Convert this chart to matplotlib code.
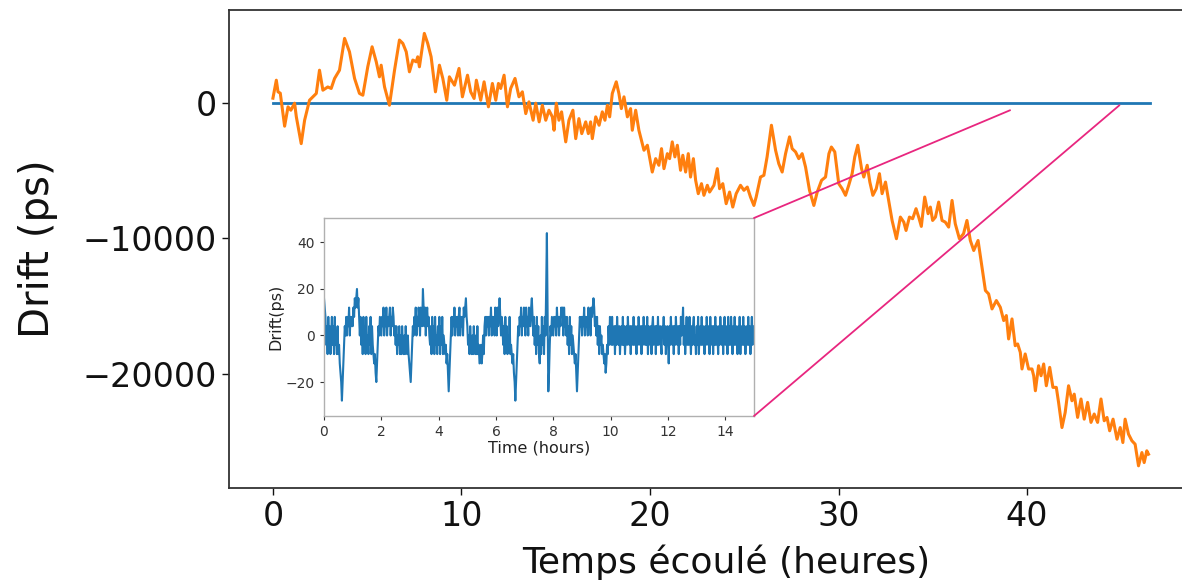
import numpy as np
import matplotlib
matplotlib.use("Agg")
import matplotlib.pyplot as plt
from matplotlib.patches import ConnectionPatch, Rectangle

# ---------------- main chart data ----------------
ref_hours = [0.0, 46.5]
ref_drift = [0, 0]

orange_hours_a = [0, 0.18, 0.27, 0.39, 0.62, 0.8, 0.95, 1.15, 1.24, 1.5, 1.68, 1.94, 2.12, 2.3, 2.47,
                  2.65, 2.91, 3.09, 3.27, 3.53, 3.8, 4.06, 4.33, 4.59, 4.77, 5.03, 5.26, 5.48, 5.65, 5.74,
                  5.92, 6.18, 6.45, 6.71, 6.89, 7.07, 7.24, 7.42, 7.6, 7.68, 7.77, 8.03, 8.21, 8.39, 8.62,
                  8.83, 9.01, 9.22, 9.36, 9.63]
orange_drift_a = [370, 1700, 840, 740, -1700, -270, -520, 0, -1000, -2990, -1260, 220, 470, 720, 2440,
                  960, 1200, 1090, 1830, 2440, 4790, 3800, 1830, 720, 590, 2690, 4170, 3060, 1950, 2810,
                  1200, -150, 2440, 4670, 4420, 3800, 2320, 3190, 3060, 3430, 2690, 5160, 4420, 3430, 840,
                  2810, 1830, 220, 1950, 1330]

orange_hours_b = [9.87, 10.05, 10.32, 10.49, 10.67, 10.79, 11.02, 11.2, 11.43, 11.64, 11.82, 11.96, 12.08,
                  12.26, 12.44, 12.61, 12.84, 13.05, 13.23, 13.41, 13.58, 13.8, 13.94, 14.12, 14.29, 14.47,
                  14.64, 14.82, 14.91, 15.03, 15.17, 15.31, 15.53, 15.7, 15.91, 16.06, 16.23, 16.38, 16.59,
                  16.73, 16.85, 16.94, 17.12, 17.3, 17.47, 17.61, 17.74, 17.86, 18.0, 18.21, 18.35, 18.48,
                  18.62, 18.8, 18.97, 19.06, 19.24, 19.41, 19.68, 19.86]
orange_drift_b = [2570, 470, 2070, 840, 350, 1700, 220, 1580, -270, 1460, 220, 1460, 1090,
                  2070, -270, 1090, 1830, 470, 840, -770, 100, -1260, 0, -1380, -150, -1260,
                  -520, -1010, -2000, 0, -1260, -640, -2860, -1260, -520, -2620, -1140, -2250, -1380,
                  -2250, -1380, -2620, -1010, -1630, -640, -1260, -150, -1010, 720, 1580, 720, -400,
                  470, -1010, -400, -2000, -520, -2000, -3480, -3110]

orange_hours_c = [20.12, 20.3, 20.47, 20.61, 20.74, 20.92, 21.04, 21.18, 21.32, 21.45, 21.62, 21.74, 21.89,
                  22.03, 22.15, 22.3, 22.42, 22.56, 22.73, 22.86, 23.04, 23.16, 23.39, 23.57, 23.69, 23.86,
                  24.04, 24.22, 24.39, 24.57, 24.8, 24.98, 25.16, 25.33, 25.51, 25.63, 25.86, 26.04, 26.21,
                  26.44, 26.66, 26.83, 27.01, 27.19, 27.4, 27.54, 27.72, 27.89, 28.07, 28.25, 28.46, 28.69,
                  28.87, 29.1, 29.31, 29.49, 29.62, 29.8]
orange_drift_c = [-5090, -4100, -4590, -3360, -4840, -3730, -4100, -2860, -3970, -3110, -4960, -3850, -5090,
                  -3730, -5460, -4100, -5700, -6690, -5950, -6810, -6070, -6570, -6070, -4840, -6320, -5950,
                  -7430, -6570, -7680, -6690, -6070, -6440, -6200, -6940, -7560, -6940, -5460, -5330, -3970,
                  -1630, -3480, -4470, -5090, -3730, -2490, -3360, -3600, -4100, -3730, -4720, -6440, -7560,
                  -6570, -5700, -5460, -3730, -3240, -3600]

orange_hours_d = [30.01, 30.19, 30.37, 30.54, 30.72, 30.86, 31.02, 31.22, 31.34, 31.52, 31.66, 31.82, 32.0,
                  32.17, 32.31, 32.49, 32.66, 32.84, 33.07, 33.28, 33.46, 33.58, 33.76, 33.93, 34.11, 34.25,
                  34.39, 34.57, 34.75, 34.87, 34.99, 35.14, 35.31, 35.49, 35.66, 35.84, 36.02, 36.19, 36.41,
                  36.63, 36.81, 36.99, 37.17, 37.4, 37.61, 37.79, 37.96, 38.14, 38.37]
orange_drift_d = [-5950, -6320, -6810, -6070, -5210, -3970, -3110, -4840, -5460, -4590, -5830, -6810, -6320,
                  -5210, -6690, -5830, -7190, -8670, -10020, -8420, -8790, -9410, -8420, -8540, -7800, -8420,
                  -9110, -6940, -8170, -7680, -8670, -8420, -7310, -8670, -8790, -9160, -7190, -8910, -10020,
                  -9650, -8670, -10150, -10890, -10150, -12120, -13850, -14100, -15210, -14590]

orange_hours_e = [38.58, 38.76, 38.9, 39.02, 39.2, 39.37, 39.5, 39.64, 39.73, 39.9, 40.08, 40.26, 40.35,
                  40.44, 40.61, 40.74, 40.88, 41.02, 41.2, 41.37, 41.55, 41.67, 41.85, 42.02, 42.2, 42.38,
                  42.5, 42.68, 42.86, 43.03, 43.21, 43.39, 43.56, 43.74, 43.92, 44.09, 44.24, 44.38, 44.56,
                  44.77, 44.94, 45.08, 45.2, 45.38, 45.56, 45.73, 45.91, 46.09, 46.21, 46.35, 46.44]
orange_drift_e = [-15090, -16070, -15700, -17430, -15950, -17930, -17800, -18420, -19650, -18540, -19650,
                  -19650, -20150, -21260, -19410, -20150, -19280, -20890, -19530, -21010, -21010, -22120,
                  -23980, -22870, -20890, -22000, -21510, -23230, -21870, -23360, -22120, -23600, -22980,
                  -23600, -21870, -23480, -23230, -24220, -23360, -24840, -23980, -25090, -23360, -24470,
                  -24960, -25210, -26810, -25830, -26570, -25700, -25950]

main_xticks = [0, 10, 20, 30, 40]
main_yticks = [0, -10000, -20000]

# ---------------- inset data (drift in 4 ps quanta, one row per hour) ----------------
inset_quantum_ps = 4
inset_step_hours = 0.025
inset_units = [
    [4, 3, 2, -1, 1, -2, 2, -1, 1, -2, 0, 2, -1, 1, -2, 2, -1, 0, -2, 1, -2, -1, -3, -4, -5, -7, -5, -3, -1, 1, 0, 2, 0, 2, 1, 3, 0, 2, 1, 2],
    [1, 3, 2, 4, 3, 4, 5, 3, 4, 2, 0, 2, -1, 1, -2, 2, -1, 1, -2, 2, -1, 0, -2, 1, -1, 2, -2, 1, -1, -2, -3, -2, -4, -5, -3, -1, 1, 0, 2, 1],
    [0, 2, 1, 3, 0, 2, 1, 3, 0, 2, 1, 2, 3, 0, 2, 1, 3, 2, 0, 1, -1, 1, -2, 0, -1, 1, -2, 0, -2, 1, -1, -2, 0, -2, 1, -1, -2, 0, -2, -3],
    [-4, -5, -3, -1, 1, 0, 2, 1, 3, 0, 2, 1, 3, 2, 0, 3, 2, 1, 5, 3, 1, 3, 0, 2, 3, 1, 2, 0, -1, 1, -2, 2, -1, 1, -2, 2, -1, 0, -2, 1],
    [-1, 2, -2, 1, -1, 2, -2, 0, -1, -2, -1, -3, -2, -4, -6, -4, -2, 0, 2, 0, 2, 1, 3, 0, 2, 1, 2, 0, 2, 3, 0, 2, 1, 2, 0, 3, 2, 3, 4, 2],
    [1, -1, 0, -2, 1, -1, -2, 0, -2, 1, -1, -2, 0, -2, 1, -2, -1, -3, -2, -1, -3, -2, 0, -2, 1, 2, 0, 2, 1, 2, 0, 2, 1, 3, 0, 2, 1, 2, 0, 3],
    [2, 0, 3, 1, 2, 4, 2, 0, 2, 1, -1, 1, -2, 2, -1, 1, -2, 0, -1, 2, -2, -1, -2, -3, -2, -4, -5, -7, -5, -3, -1, 1, 0, 2, 1, 3, 0, 2, 1, 3],
    [2, 0, 3, 1, 2, 0, 3, 2, 1, 3, 4, 2, 0, 2, -1, 1, -2, 2, -1, 1, -2, -3, 0, -2, 2, -1, 1, -2, 2, 0, 5, 11, 2, -6, -4, -1, 1, 0, 2, 1],
    [0, 2, 1, 2, 0, 3, 1, 2, 0, 2, 1, 3, 2, 3, 0, 3, 1, 2, 0, 2, -1, 1, -2, 2, -1, 1, -2, 0, -1, -2, -3, -2, -4, -6, -4, -2, 0, 2, 1, 2],
    [0, 2, 1, 3, 0, 2, 1, 2, 0, 3, 1, 2, 0, 3, 2, 3, 4, 3, 1, 2, 0, 2, -1, 1, -2, 1, -1, 0, -2, -1, -2, -3, -2, -4, -3, -1, -2, 1, -1, 2],
    [1, -1, 2, -1, 0, 1, -2, 1, -1, 2, 0, -1, 1, -2, 0, 1, -1, 2, -1, 1, -2, 0, 1, -1, 2, 0, -1, 1, -2, 1, 0, -1, 2, -1, 1, 0, -2, 1, -1, 2],
    [0, -1, 1, -2, 1, -1, 2, 0, -1, 1, -1, 2, -2, 1, 0, -1, 1, -2, 1, 2, -1, 0, 1, -2, 1, -1, 2, -1, 0, 1, -1, -2, 1, 0, 2, -1, 1, -2, 0, 1],
    [0, -3, 1, -1, 2, 0, -1, 1, -2, 1, -1, 2, 0, -1, 1, -2, 1, -1, 2, 0, 1, 3, -1, 1, -2, 0, 2, -1, 1, -1, 2, 0, -2, 1, -1, 1, 2, -1, 0, -2],
    [1, -1, 2, -2, 0, 1, -1, 2, -1, 1, 0, -2, 1, -1, 2, 0, -1, 1, -2, 2, -1, 0, 1, -2, 1, -1, 2, -1, 1, 0, -2, 1, -1, 2, 0, -1, 1, -2, 1, 2],
    [-1, 1, 0, -2, 2, -1, 1, -1, 2, 0, -2, 1, -1, 2, -1, 1, 0, -2, 1, -1, 2, -2, 1, 0, -1, 2, -1, 1, -2, 0, 1, -1, 2, -1, 1, -2, 0, 2, -1, 1],
    [0],
]
inset_xticks = [0, 2, 4, 6, 8, 10, 12, 14]
inset_yticks = [-20, 0, 20, 40]

# zoom-link end points on the main axes (hours, ps)
link_top = (39.1, -520)
link_bottom = (44.9, -150)

# ---------------- figure ----------------
W, H = 1182, 587
fig = plt.figure(figsize=(W / 100, H / 100), dpi=100)
fig.patch.set_facecolor("white")

def fx(px):
    return px / W

def fy(py):
    return 1 - py / H

ax = fig.add_axes([fx(229), fy(488), fx(1193) - fx(229), fy(10) - fy(488)])
orange_hours = orange_hours_a + orange_hours_b + orange_hours_c + orange_hours_d + orange_hours_e
orange_drift = orange_drift_a + orange_drift_b + orange_drift_c + orange_drift_d + orange_drift_e
ax.plot(ref_hours, ref_drift, color="#1f77b4", lw=2.0, zorder=2)
ax.plot(orange_hours, orange_drift, color="#ff7f0e", lw=2.2, zorder=3)
ax.set_xlim(-2.33, 48.8)
ax.set_ylim(-28450, 6890)
ax.set_xticks(main_xticks)
ax.set_yticks(main_yticks)
ax.tick_params(labelsize=24, length=5, width=1.0, colors="#111111")
for sp in ax.spines.values():
    sp.set_color("#333333")
    sp.set_linewidth(1.3)
ax.set_xlabel("Temps écoulé (heures)", fontsize=26, color="#111111")
ax.set_ylabel("Drift (ps)", fontsize=29, color="#111111")
ax.xaxis.set_label_coords(0.5156, -0.118)
ax.yaxis.set_label_coords(-0.177, 0.5)

# white backdrop behind the inset (covers its tick labels region)
fig.patches.append(Rectangle((fx(262), fy(462)), fx(754) - fx(262), fy(209) - fy(462),
                             transform=fig.transFigure, facecolor="white", edgecolor="none", zorder=0.5))

axin = fig.add_axes([fx(324), fy(416), fx(754) - fx(324), fy(218) - fy(416)], zorder=1)
inset_vals = np.concatenate([np.asarray(r, dtype=float) for r in inset_units]) * inset_quantum_ps
inset_hours = np.arange(len(inset_vals)) * inset_step_hours
axin.plot(inset_hours, inset_vals, color="#1f77b4", lw=1.5)
axin.set_xlim(0, 15)
axin.set_ylim(-34.6, 50.5)
axin.set_xticks(inset_xticks)
axin.set_yticks(inset_yticks)
axin.tick_params(labelsize=10, length=3, colors="#333333")
for sp in axin.spines.values():
    sp.set_color("#b0b0b0")
    sp.set_linewidth(1.0)
axin.set_xlabel("Time (hours)", fontsize=11.5, color="#222222", labelpad=1)
axin.set_ylabel("Drift(ps)", fontsize=11.5, color="#222222", labelpad=2)

for corner, target in (((1, 1), link_top), ((1, 0), link_bottom)):
    con = ConnectionPatch(xyA=corner, coordsA=axin.transAxes, xyB=target, coordsB=ax.transData,
                          color="#e8267f", lw=1.3, zorder=5)
    fig.add_artist(con)

fig.savefig("out.png", dpi=100)
